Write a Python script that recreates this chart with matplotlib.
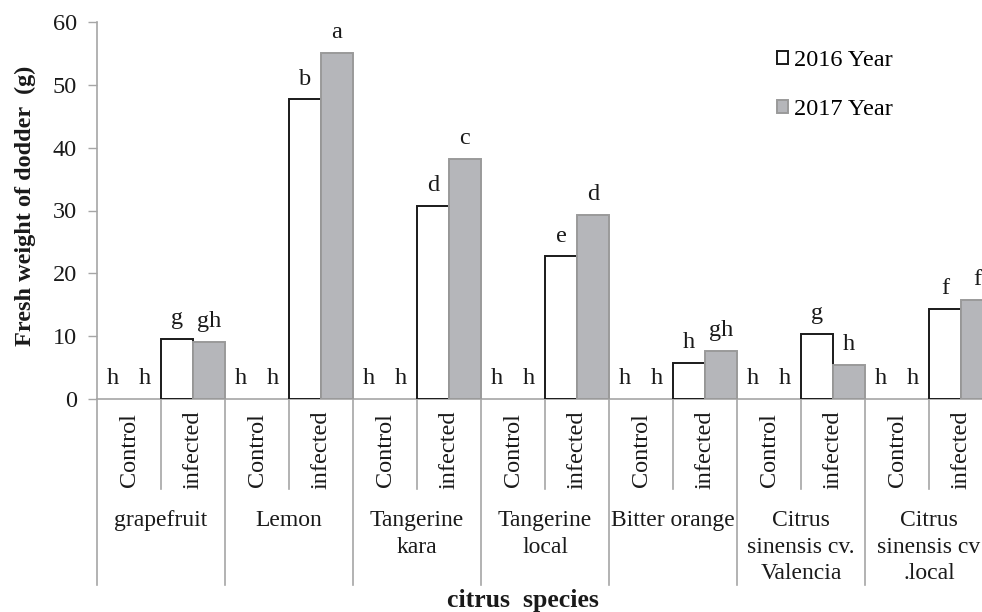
import matplotlib
matplotlib.use('Agg')
import matplotlib.pyplot as plt
from matplotlib.patches import Patch

# Data
species = ['grapefruit', 'Lemon', 'Tangerine\nkara', 'Tangerine\nlocal',
           'Bitter orange', 'Citrus\nsinensis cv.\nValencia',
           'Citrus\nsinensis cv\n.local']
treatments = ['Control', 'infected']

# one value per (species, treatment), control first
weight_2016 = [0, 9.6, 0, 47.7, 0, 30.7, 0, 22.7, 0, 5.7, 0, 10.4, 0, 14.4]
weight_2017 = [0, 9.1, 0, 55.1, 0, 38.2, 0, 29.3, 0, 7.7, 0, 5.4, 0, 15.8]
letters_2016 = ['h', 'g', 'h', 'b', 'h', 'd', 'h', 'e', 'h', 'h', 'h', 'g', 'h', 'f']
letters_2017 = ['h', 'gh', 'h', 'a', 'h', 'c', 'h', 'd', 'h', 'gh', 'h', 'h', 'h', 'f']

plt.rcParams['font.family'] = ['Liberation Serif', 'DejaVu Serif']

W, H = 982, 612
fs = 17
ink = '#1a1a1a'
fig = plt.figure(figsize=(W / 100, H / 100), dpi=100)
# the plot area runs past the right edge of the picture, as in the reference
ax = fig.add_axes([97 / W, 1 - 399 / H, (993 - 97) / W, (399 - 22) / H])

axis_grey = '#a6a6a6'
bar_grey = '#b5b6ba'
n = len(weight_2016)
for i in range(n):
    if weight_2016[i] > 0:
        ax.bar(i + 0.25, weight_2016[i], width=0.5, color='white',
               edgecolor=ink, linewidth=1.4, zorder=3)
    if weight_2017[i] > 0:
        ax.bar(i + 0.75, weight_2017[i], width=0.5, color=bar_grey,
               edgecolor='#9a9a9a', linewidth=1.4, zorder=3)
    for dx, v, lab in [(0.25, weight_2016[i], letters_2016[i]),
                       (0.75, weight_2017[i], letters_2017[i])]:
        ax.annotate(lab, (i + dx, v), xytext=(0, 7), textcoords='offset points',
                    ha='center', va='bottom', fontsize=17.5, color=ink)

ax.set_xlim(0, n)
ax.set_ylim(0, 60)
ax.set_yticks(range(0, 61, 10))
ax.tick_params(axis='y', length=6.5, width=1, color=axis_grey, labelsize=17.5,
               labelcolor=ink, pad=8)
ax.set_xticks([])
for s in ['top', 'right']:
    ax.spines[s].set_visible(False)
for s in ['left', 'bottom']:
    ax.spines[s].set_color(axis_grey)
    ax.spines[s].set_linewidth(1.2)

# category axis below the plot, drawn as in the spreadsheet layout
tr = ax.get_xaxis_transform()
y_inner = -(489 - 399) / 377
y_outer = -(585 - 399) / 377
for i in range(n + 1):
    bottom = y_outer if i % 2 == 0 else y_inner
    ax.plot([i, i], [0, bottom], transform=tr, color=axis_grey, lw=1.2,
            clip_on=False)
for i in range(n):
    ax.text(i + 0.5, -(450 - 399) / 377, treatments[i % 2], transform=tr,
            rotation=90, ha='center', va='center', fontsize=17.5, color=ink)
for g, name in enumerate(species):
    ax.text(2 * g + 1, -(510 - 399) / 377, name, transform=tr, ha='center',
            va='top', fontsize=fs, color=ink, linespacing=1.35)

fig.text(523 / W, 1 - 600 / H, 'citrus  species', ha='center', va='center',
         fontsize=18.5, fontweight='bold', color=ink)
fig.text(25 / W, 1 - 206 / H, 'Fresh weight of dodder  (g)', rotation=90,
         ha='center', va='center', fontsize=17.5, fontweight='bold', color=ink)

handles = [Patch(facecolor='white', edgecolor=ink, linewidth=1.4),
           Patch(facecolor=bar_grey, edgecolor='#9a9a9a', linewidth=1.4)]
fig.legend(handles, ['2016 Year', '2017 Year'], loc='upper left',
           bbox_to_anchor=(777 / W, 1 - 50 / H), frameon=False, fontsize=17.5,
           handlelength=0.45, handleheight=0.45, handletextpad=0.25,
           labelspacing=1.15, borderaxespad=0, borderpad=0)

fig.savefig('out.png', dpi=100)
